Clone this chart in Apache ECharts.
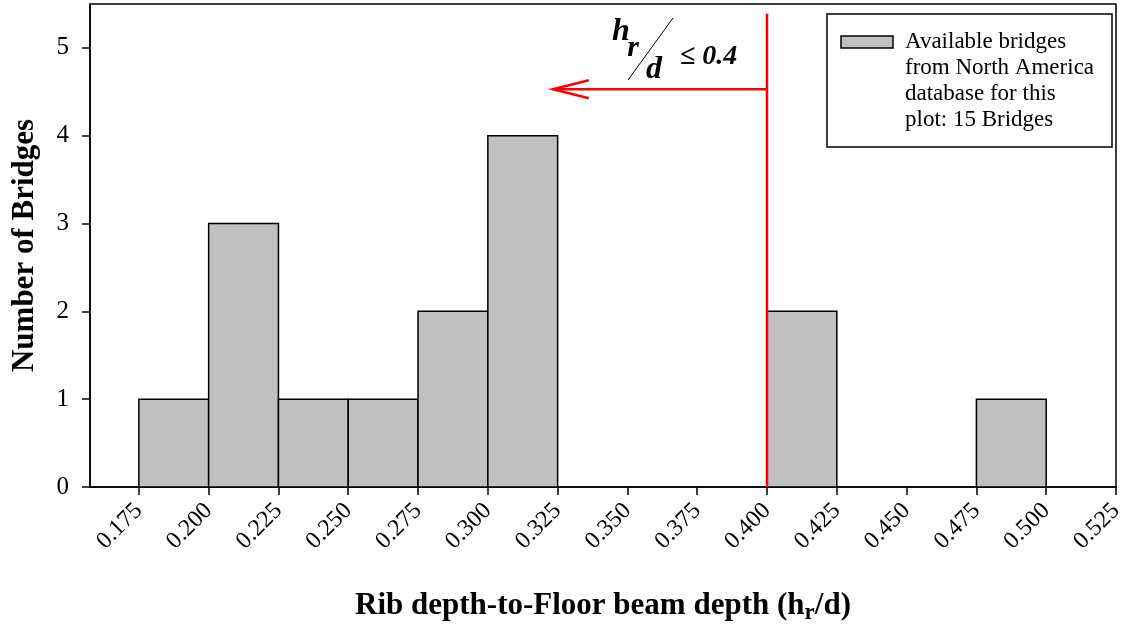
<!DOCTYPE html>
<html>
<head>
<meta charset="utf-8">
<script src="https://cdn.jsdelivr.net/npm/echarts@6/dist/echarts.min.js"></script>
<style>
html,body{margin:0;padding:0;background:#fff;}
#chart{width:1134px;height:627px;}
</style>
</head>
<body>
<div id="chart"></div>
<script>
// ---- data ----
const binStarts = [0.175, 0.200, 0.225, 0.250, 0.275, 0.300, 0.400, 0.475];
const counts = [1, 3, 1, 1, 2, 4, 2, 1];
const binWidth = 0.025;
const xTicks = [0.175, 0.200, 0.225, 0.250, 0.275, 0.300, 0.325, 0.350, 0.375, 0.400, 0.425, 0.450, 0.475, 0.500, 0.525];
const yTicks = [0, 1, 2, 3, 4, 5];
const threshold = 0.4;
const thresholdTop = 5.39;
const arrowY = 4.53;
const arrowTipX = 0.3233;
const legendLines = ['Available bridges', 'from North America', 'database for this', 'plot: 15 Bridges'];

const FONT = '"Liberation Serif", "Times New Roman", serif';
const chart = echarts.init(document.getElementById('chart'));

const option = {
  backgroundColor: '#fff',
  animation: false,
  grid: { left: 90, right: 18, top: 4, bottom: 140, outerBoundsMode: 'none', containLabel: false,
    show: true, borderColor: '#000', borderWidth: 1.5, backgroundColor: 'transparent' },
  xAxis: {
    type: 'value', min: 0.1575, max: 0.525,
    name: 'Rib depth-to-Floor beam depth (h{sub|r}/d)',
    nameLocation: 'middle', nameGap: 100,
    nameTextStyle: { fontFamily: FONT, fontWeight: 'bold', fontSize: 31, color: '#000',
      rich: { sub: { fontFamily: FONT, fontWeight: 'bold', fontSize: 23, color: '#000', padding: [15, 0, 0, 0] } } },
    splitLine: { show: false },
    axisLine: { lineStyle: { color: '#000', width: 1.5 } },
    axisTick: { show: true, length: 8, lineStyle: { color: '#000', width: 1.5 }, customValues: xTicks },
    axisLabel: { customValues: xTicks, rotate: 45, margin: 20, fontFamily: FONT, fontSize: 24, color: '#000',
      formatter: v => v.toFixed(3) }
  },
  yAxis: {
    type: 'value', min: 0, max: 5.5,
    name: 'Number of Bridges', nameLocation: 'middle', nameGap: 50,
    nameTextStyle: { fontFamily: FONT, fontWeight: 'bold', fontSize: 31, color: '#000' },
    splitLine: { show: false },
    axisLine: { show: true, lineStyle: { color: '#000', width: 1.5 } },
    axisTick: { show: true, length: 8, lineStyle: { color: '#000', width: 1.5 }, customValues: yTicks },
    axisLabel: { customValues: yTicks, margin: 21, fontFamily: FONT, fontSize: 25, color: '#000' }
  },
  series: [
    {
      type: 'custom', name: 'bridges',
      data: binStarts.map((b, i) => [b, counts[i]]),
      renderItem: function (params, api) {
        const x0 = api.value(0), y = api.value(1);
        const p0 = api.coord([x0, 0]);
        const p1 = api.coord([x0 + binWidth, y]);
        return { type: 'rect', shape: { x: p0[0], y: p1[1], width: p1[0] - p0[0], height: p0[1] - p1[1] },
          style: { fill: '#c0c0c0', stroke: '#000', lineWidth: 1.5 } };
      },
      z: 2
    },
    {
      type: 'custom', name: 'threshold',
      data: [[threshold, arrowY]],
      renderItem: function (params, api) {
        const base = api.coord([threshold, 0]);
        const top = api.coord([threshold, thresholdTop]);
        const a0 = api.coord([threshold, arrowY]);
        const tip = api.coord([arrowTipX, arrowY]);
        const st = { stroke: '#ff0000', lineWidth: 2.5, fill: null };
        return { type: 'group', children: [
          { type: 'line', shape: { x1: base[0], y1: base[1], x2: top[0], y2: top[1] }, style: st },
          { type: 'line', shape: { x1: a0[0], y1: a0[1], x2: tip[0], y2: tip[1] }, style: st },
          { type: 'polyline', shape: { points: [[tip[0] + 36, tip[1] - 9], [tip[0], tip[1]], [tip[0] + 36, tip[1] + 9]] }, style: st }
        ] };
      },
      z: 5
    }
  ],
  graphic: [
    // annotation h_r / d <= 0.4
    { type: 'text', x: 621, y: 32, style: { text: 'h', font: 'italic bold 32px ' + FONT, fill: '#000', align: 'center', verticalAlign: 'middle' }, z: 10 },
    { type: 'text', x: 633, y: 48.5, style: { text: 'r', font: 'italic bold 30px ' + FONT, fill: '#000', align: 'center', verticalAlign: 'middle' }, z: 10 },
    { type: 'line', shape: { x1: 628, y1: 80, x2: 673, y2: 18 }, style: { stroke: '#000', lineWidth: 1 }, z: 10 },
    { type: 'text', x: 654, y: 70, style: { text: 'd', font: 'italic bold 32px ' + FONT, fill: '#000', align: 'center', verticalAlign: 'middle' }, z: 10 },
    { type: 'text', x: 680, y: 56.5, style: { text: '\u2264 0.4', font: 'italic bold 28px ' + FONT, fill: '#000', align: 'left', verticalAlign: 'middle' }, z: 10 },
    // legend
    { type: 'rect', shape: { x: 827, y: 14, width: 285, height: 133 }, style: { fill: '#fff', stroke: '#000', lineWidth: 1.5 }, z: 20 },
    { type: 'rect', shape: { x: 841, y: 36, width: 52, height: 12 }, style: { fill: '#c0c0c0', stroke: '#000', lineWidth: 1.5 }, z: 21 },
    { type: 'text', x: 905, y: 29, style: { text: legendLines.join('\n'), font: '23px ' + FONT, lineHeight: 26, fill: '#000', align: 'left', verticalAlign: 'top' }, z: 21 }
  ]
};
chart.setOption(option);
</script>
</body>
</html>
